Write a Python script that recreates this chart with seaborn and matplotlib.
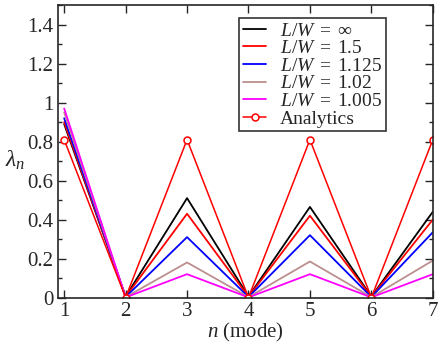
"""
Mode eigenvalues lambda_n vs mode index for several aspect ratios
"""

import numpy as np
import pandas as pd
import matplotlib
matplotlib.use("Agg")
import matplotlib.pyplot as plt
import seaborn as sns
from matplotlib.ticker import MultipleLocator

modes = [1, 2, 3, 4, 5, 6, 7]
lam_inf = [0.89, 0.005, 0.51, 0.005, 0.465, 0.005, 0.44]
lam_1p5 = [0.90, 0.004, 0.43, 0.004, 0.42, 0.004, 0.40]
lam_1p125 = [0.92, 0.003, 0.31, 0.003, 0.32, 0.003, 0.335]
lam_1p02 = [0.95, 0.002, 0.18, 0.002, 0.185, 0.002, 0.19]
lam_1p005 = [0.97, 0.001, 0.12, 0.001, 0.12, 0.001, 0.12]
analytics = [0.81, 0.0, 0.81, 0.0, 0.81, 0.0, 0.81]

labels = [r"$L/W\;=\;\infty$", r"$L/W\;=\;1.5$", r"$L/W\;=\;1.125$",
          r"$L/W\;=\;1.02$", r"$L/W\;=\;1.005$"]
colors = ["black", "red", "blue", "#bc8f8f", "magenta"]

sns.set_style("ticks")
plt.rcParams["font.family"] = ["Liberation Serif", "DejaVu Serif"]
plt.rcParams["mathtext.fontset"] = "custom"
plt.rcParams["mathtext.rm"] = "Liberation Serif"
plt.rcParams["mathtext.it"] = "Liberation Serif:italic"
plt.rcParams["mathtext.bf"] = "Liberation Serif:bold"

rows = []
for lab, vals in zip(labels, [lam_inf, lam_1p5, lam_1p125, lam_1p02, lam_1p005]):
    for n, v in zip(modes, vals):
        rows.append({"n": n, "lam": v, "series": lab})
df = pd.DataFrame(rows)

fig, ax = plt.subplots(figsize=(4.43, 3.44), dpi=100)
sns.lineplot(data=df, x="n", y="lam", hue="series", palette=colors,
             hue_order=labels, lw=1.3, ax=ax)
ax.plot(modes, analytics, color="red", lw=1.1, marker="o", ms=5,
        mfc="white", mec="red", mew=1.1, label="Analytics")

ax.set_xlim(0.9, 7)
ax.set_ylim(0, 1.5)
ax.xaxis.set_major_locator(MultipleLocator(1))
ax.yaxis.set_major_locator(MultipleLocator(0.2))
ax.yaxis.set_minor_locator(MultipleLocator(0.1))
ax.set_yticks([0, 0.2, 0.4, 0.6, 0.8, 1.0, 1.2, 1.4])
ax.set_yticklabels(["0", "0.2", "0.4", "0.6", "0.8", "1", "1.2", "1.4"])
ax.tick_params(which="both", direction="in", top=True, right=True, labelsize=15)
ax.tick_params(which="major", length=6, width=1)
ax.tick_params(which="minor", length=3, width=1)
for s in ax.spines.values():
    s.set_linewidth(1.2)

ax.set_xlabel(r"$n$ (mode)", fontsize=15, labelpad=0)
ax.set_ylabel(r"$\lambda_n$", fontsize=17, rotation=0)
ax.yaxis.set_label_coords(-0.115, 0.43)

leg = ax.legend(loc="upper right", bbox_to_anchor=(0.875, 0.956), fontsize=14,
                frameon=True, fancybox=False, edgecolor="black",
                handlelength=1.2, handletextpad=0.7, labelspacing=0.0,
                borderpad=0.2, borderaxespad=0)
leg.get_frame().set_linewidth(1.2)

plt.subplots_adjust(left=0.131, right=0.977, top=0.985, bottom=0.135)
plt.savefig("out.png", dpi=100)
